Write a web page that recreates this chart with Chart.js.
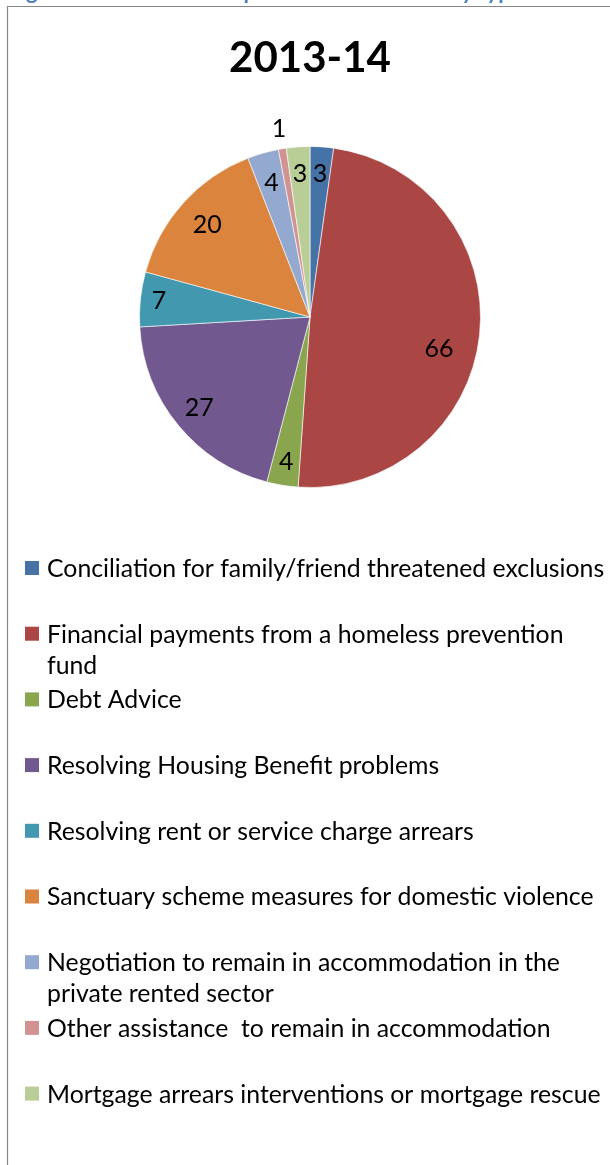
<!DOCTYPE html>
<html>
<head>
<meta charset="utf-8">
<title>2013-14</title>
<script src="https://cdn.jsdelivr.net/npm/chart.js@4"></script>
<style>
  html, body { margin: 0; padding: 0; background: #fff; }
  #wrap { position: relative; width: 610px; height: 1165px; }
</style>
</head>
<body>
<div id="wrap"><canvas id="pieChart"></canvas></div>
<script>
const chartTitle = "2013-14";
const captionText = "Figure 5: Homelessness prevention activities by type";

// legend labels, arrays where the legend breaks the line
const categories = [
  "Conciliation for family/friend threatened exclusions",
  ["Financial payments from a homeless prevention", "fund"],
  "Debt Advice",
  "Resolving Housing Benefit problems",
  "Resolving rent or service charge arrears",
  "Sanctuary scheme measures for domestic violence",
  ["Negotiation to remain in accommodation in the", "private rented sector"],
  "Other assistance  to remain in accommodation",
  "Mortgage arrears interventions or mortgage rescue"
];
const values = [3, 66, 4, 27, 7, 20, 4, 1, 3];

const sliceColors = [
  "#4572A7", "#AA4643", "#89A54E", "#71588F", "#4198AF",
  "#DB843D", "#93A9CF", "#D19392", "#B9CD96"
];
// where each value label sits: share of the radius, and a turn in degrees
const labelRadius = [0.84, 0.78, 0.86, 0.84, 0.89, 0.81, 0.82, 1.12, 0.84];
const labelTurn = [0, 8, 0, 0, 0, 0, 0, 0, 0];

const FONT = "Lato, 'Open Sans', sans-serif";

const decorations = {
  id: "decorations",
  beforeDraw(chart) {
    const ctx = chart.ctx;
    ctx.save();
    // caption above the frame, mostly cut off
    ctx.fillStyle = "#4F81BD";
    ctx.font = "bold 22px " + FONT;
    ctx.textBaseline = "alphabetic";
    ctx.textAlign = "left";
    ctx.fillText(captionText, 8, -1);
    // chart frame
    ctx.strokeStyle = "#888";
    ctx.lineWidth = 1.2;
    ctx.beginPath();
    ctx.moveTo(7.5, chart.height);
    ctx.lineTo(7.5, 6.5);
    ctx.lineTo(chart.width, 6.5);
    ctx.stroke();
    // title
    ctx.fillStyle = "#000";
    ctx.font = "bold 42px " + FONT;
    ctx.textAlign = "center";
    ctx.textBaseline = "alphabetic";
    ctx.fillText(chartTitle, 310, 72);
    ctx.restore();
  },
  afterDraw(chart) {
    const ctx = chart.ctx;
    const ds = chart.data.datasets[0];
    const arcs = chart.getDatasetMeta(0).data;
    ctx.save();
    // value labels on the slices
    ctx.fillStyle = "#000";
    ctx.font = "25px " + FONT;
    ctx.textAlign = "center";
    ctx.textBaseline = "middle";
    arcs.forEach((arc, i) => {
      const mid = (arc.startAngle + arc.endAngle) / 2 + labelTurn[i] * Math.PI / 180;
      const r = arc.outerRadius * labelRadius[i];
      ctx.fillText(String(ds.data[i]), arc.x + Math.cos(mid) * r, arc.y + Math.sin(mid) * r);
    });
    // legend
    ctx.font = "24.8px " + FONT;
    ctx.textAlign = "left";
    ctx.textBaseline = "middle";
    chart.data.labels.forEach((lab, i) => {
      const lines = Array.isArray(lab) ? lab : [lab];
      const y = 568 + i * 65.7;
      ctx.fillStyle = ds.backgroundColor[i];
      ctx.fillRect(25, y - 7, 14, 14);
      ctx.fillStyle = "#000";
      lines.forEach((ln, j) => ctx.fillText(ln, 47, y + 1 + j * 31));
    });
    ctx.restore();
  }
};

const ctx = document.getElementById("pieChart").getContext("2d");
new Chart(ctx, {
  type: "pie",
  data: {
    labels: categories,
    datasets: [{
      data: values,
      backgroundColor: sliceColors,
      borderColor: "rgba(255,255,255,0.6)",
      borderWidth: 1
    }]
  },
  options: {
    responsive: true,
    maintainAspectRatio: false,
    animation: false,
    layout: { padding: { left: 139, right: 129, top: 146, bottom: 677 } },
    plugins: {
      legend: { display: false },
      title: { display: false },
      tooltip: { enabled: false }
    }
  },
  plugins: [decorations]
});
</script>
</body>
</html>
